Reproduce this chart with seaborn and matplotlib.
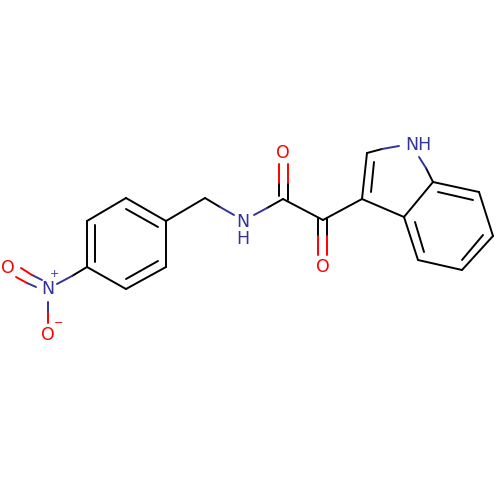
import pandas as pd
import matplotlib
matplotlib.use('Agg')
import matplotlib.pyplot as plt
import seaborn as sns

# bond pieces: x0, y0, x1, y1 (pixels), grouped by colour
black_bonds = [
    (126, 198, 166, 221), (166, 221, 166, 267), (166, 267, 126, 289),
    (126, 289, 87, 267), (87, 267, 87, 221), (87, 221, 126, 198),
    (126, 209, 158, 227), (95, 225, 95, 262), (126, 279, 158, 261),
    (166, 221, 205, 198), (205, 198, 220, 207),
    (87, 267, 72, 276),
    (267, 208, 283, 199), (283, 199, 323, 220), (323, 220, 362, 199),
    (279, 196, 279, 183), (288, 200, 288, 183),
    (318, 218, 318, 236), (327, 218, 327, 236),
    (362, 199, 367, 153), (367, 153, 382, 149),
    (371, 192, 374, 162),
    (426, 168, 433, 182), (433, 182, 479, 192), (479, 192, 493, 236),
    (493, 236, 462, 270), (462, 270, 418, 260), (418, 260, 404, 217),
    (404, 217, 433, 182), (404, 217, 362, 199),
    (438, 192, 473, 200), (483, 235, 462, 260), (415, 222, 424, 252),
]
blue_bonds = [
    (220, 207, 234, 215), (254, 215, 267, 208),
    (72, 276, 57, 284),
    (42, 280, 32, 275), (36, 287, 27, 283),
    (48, 302, 48, 313),
    (382, 149, 399, 146), (419, 157, 426, 168),
]
red_bonds = [
    (32, 275, 21, 268), (27, 283, 16, 277),
    (48, 313, 48, 323),
    (279, 183, 279, 164), (288, 183, 288, 164),
    (318, 236, 318, 255), (327, 236, 327, 255),
]

# atom labels
label_text = ['O', 'N', 'O', 'N', 'H', 'O', 'O', 'NH']
label_x = [8, 48, 48, 243, 243, 283, 323, 418]
label_y = [268, 289, 335, 222, 239, 153, 267, 145]
label_colour = ['#ff0000', '#33339a', '#ff0000', '#33339a', '#33339a',
                '#ff0000', '#ff0000', '#33339a']

# charges on the nitro group
charge_text = ['+', '\u2212']
charge_x = [54, 59]
charge_y = [274, 323]
charge_colour = ['#33339a', '#ff0000']

palette = {'black': '#000000', 'blue': '#33339a', 'red': '#ff0000'}

rows = []
bond_id = 0
for name, bonds in [('black', black_bonds), ('blue', blue_bonds), ('red', red_bonds)]:
    for x0, y0, x1, y1 in bonds:
        rows.append({'bond': bond_id, 'x': x0, 'y': y0, 'colour': name})
        rows.append({'bond': bond_id, 'x': x1, 'y': y1, 'colour': name})
        bond_id += 1
df = pd.DataFrame(rows)

sns.set_style('white')
plt.rcParams['font.family'] = ['DejaVu Sans']

fig = plt.figure(figsize=(5, 5), dpi=100)
ax = fig.add_axes([0, 0, 1, 1])

sns.lineplot(data=df, x='x', y='y', units='bond', hue='colour', palette=palette,
             estimator=None, sort=False, legend=False, linewidth=1.4, ax=ax)

for t, x, y, c in zip(label_text, label_x, label_y, label_colour):
    ax.text(x, y, t, color=c, fontsize=12.5, ha='center', va='center')
for t, x, y, c in zip(charge_text, charge_x, charge_y, charge_colour):
    ax.text(x, y, t, color=c, fontsize=8, ha='center', va='center')

ax.set_xlim(0, 500)
ax.set_ylim(500, 0)
ax.axis('off')

fig.savefig('out.png', dpi=100)
